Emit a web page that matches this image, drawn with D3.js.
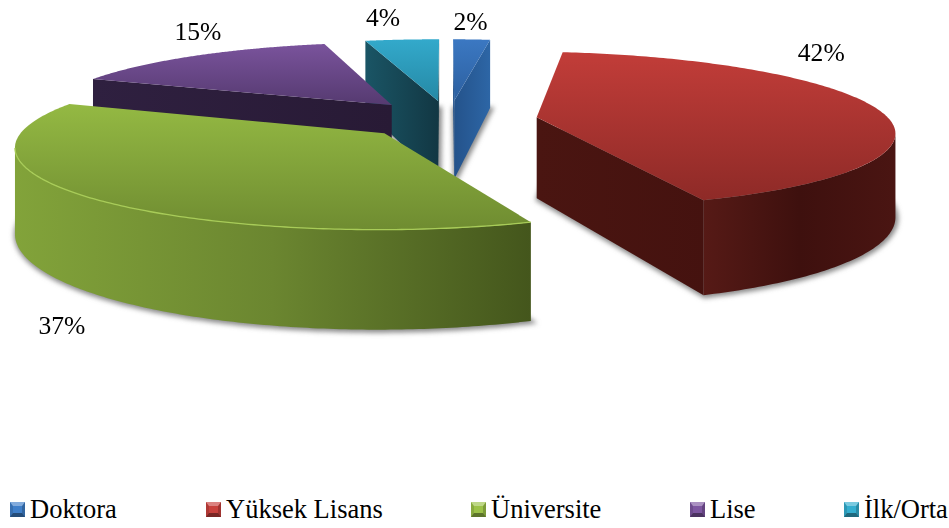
<!DOCTYPE html>
<html>
<head>
<meta charset="utf-8">
<script src="https://cdn.jsdelivr.net/npm/d3@7"></script>
<style>
body { margin: 0; background: #fff; }
text { font-family: "Liberation Serif", "Times New Roman", serif; fill: #000; }
</style>
</head>
<body>
<svg id="canvas" width="949" height="528"></svg>
<script>
// ----------------------------------------------------------
// DATA -----------------------------------------------------
// ----------------------------------------------------------
var categories = ["Doktora", "Yüksek Lisans", "Üniversite", "Lise", "İlk/Orta"];
var percents = [2, 42, 37, 15, 4];

// ----------------------------------------------------------
// STYLE ----------------------------------------------------
// ----------------------------------------------------------
var color_top = [["#3b78c2", "#2c5f9f"], ["#c23d39", "#8e2a27"], ["#94b943", "#6f8c31"], ["#7a539c", "#553a70"], ["#33a9cb", "#2589a5"]];
var color_wall = [["#24528a", "#2d66a6"], ["#4a1511", "#3f0f0d"], ["#8aad3d", "#44561c"], ["#2f2040", "#281a35"], ["#1a5565", "#123743"]];
var color_rim = [null, ["#561a16", "#3e100e", "#4a1512"], ["#82a33a", "#6b8630", "#44561c"], null, null];
var color_edge = [null, null, "#a8cc58", null, null];
var color_mark = ["#3f7fc9", "#c8403c", "#9cc248", "#7d56a0", "#34aecf"];
var label_shift = [[-1, -17], [-56, -56], [-25, 129], [4, -24], [-19, -22]];
var legend_x = [10, 206, 471, 690, 844];
var draw_order = [0, 4, 3, 1, 2];

// projection of the tilted disc onto the page
var cam = { a: 352.733, b: 69.9018, c: 448.939, d: 0.978725, f: -57.8168, g: 119.33, p: -0.000831628, q: 0.156808, depth: 81.5496 };
var explode = 0.251739;

var svg = d3.select("#canvas");
var defs = svg.append("defs");

var blur = defs.append("filter").attr("id", "soft").attr("x", "-20%").attr("y", "-20%").attr("width", "140%").attr("height", "140%");
blur.append("feGaussianBlur").attr("stdDeviation", 2.6);
var blur_edge = defs.append("filter").attr("id", "soft_edge").attr("x", "-5%").attr("y", "-20%").attr("width", "110%").attr("height", "140%");
blur_edge.append("feGaussianBlur").attr("stdDeviation", 0.5);

// ----------------------------------------------------------
// GEOMETRY -------------------------------------------------
// ----------------------------------------------------------
var pie = d3.pie().sort(null).value(function(d) { return d; });
var arcs = pie(percents);

function project(x, y) {
  var w = 1 + cam.p * x + cam.q * y;
  return { x: (cam.a * x + cam.b * y + cam.c) / w, y: (cam.d * x + cam.f * y + cam.g) / w, h: cam.depth / w };
}
function disc_point(i, angle, r) {
  var mid = (arcs[i].startAngle + arcs[i].endAngle) / 2;
  return project(explode * Math.sin(mid) + r * Math.sin(angle), explode * Math.cos(mid) + r * Math.cos(angle));
}
function rim_points(i) {
  var scale = d3.scaleLinear().domain([0, 180]).range([arcs[i].startAngle, arcs[i].endAngle]);
  return d3.range(181).map(function(k) { return disc_point(i, scale(k), 1); });
}
var line_top = d3.line().x(function(p) { return p.x; }).y(function(p) { return p.y; });
var line_low = d3.line().x(function(p) { return p.x; }).y(function(p) { return p.y + p.h; });

function wall_path(pts) {
  return line_top(pts) + "L" + line_low(pts.slice().reverse()).slice(1) + "Z";
}
function gradient(id, stops, x1, y1, x2, y2, units) {
  var g = defs.append("linearGradient").attr("id", id)
    .attr("x1", x1).attr("y1", y1).attr("x2", x2).attr("y2", y2)
    .attr("gradientUnits", units);
  stops.forEach(function(c, k) {
    g.append("stop").attr("offset", k / (stops.length - 1)).attr("stop-color", c);
  });
}

// ----------------------------------------------------------
// SHADOWS --------------------------------------------------
// ----------------------------------------------------------
var shadow_group = svg.append("g").attr("filter", "url(#soft)");
arcs.forEach(function(a, i) {
  var outline = [disc_point(i, 0, 0)].concat(rim_points(i));
  shadow_group.append("path")
    .attr("d", line_low(outline) + "Z")
    .attr("transform", "translate(1,1)")
    .style("fill", "#8a8a8a").style("stroke", "#8a8a8a").style("stroke-width", 4);
});

// ----------------------------------------------------------
// SLICES ---------------------------------------------------
// ----------------------------------------------------------
var slice_group = svg.append("g");
draw_order.forEach(function(i) {
  var g = slice_group.append("g").attr("class", "slice");
  var apex = disc_point(i, 0, 0);
  var rim = rim_points(i);
  var start = rim[0], end = rim[rim.length - 1];
  var bx = d3.extent(rim.concat([apex]), function(p) { return p.x; });
  var by = d3.extent(rim.concat([apex]), function(p) { return p.y; });

  // cut walls, only those facing the viewer
  gradient("wall" + i, color_wall[i], bx[0], 0, bx[1], 0, "userSpaceOnUse");
  [[end, apex], [apex, start]].forEach(function(edge) {
    if (edge[1].x < edge[0].x - 1) {
      g.append("path").attr("d", wall_path(edge)).style("fill", "url(#wall" + i + ")");
    }
  });

  // curved wall, front part of the rim
  var front = rim.filter(function(p, k) {
    return (k > 0 && p.x < rim[k - 1].x) || (k < rim.length - 1 && rim[k + 1].x < p.x);
  });
  if (color_rim[i] && front.length > 1) {
    gradient("rim" + i, color_rim[i], d3.min(front, function(p) { return p.x; }), 0, d3.max(front, function(p) { return p.x; }), 0, "userSpaceOnUse");
    g.append("path").attr("d", wall_path(front)).style("fill", "url(#rim" + i + ")");
  }

  // top face
  gradient("top" + i, color_top[i], 0, by[0], 0, by[1], "userSpaceOnUse");
  g.append("path").attr("d", line_top([apex].concat(rim)) + "Z").style("fill", "url(#top" + i + ")");

  // bevel on the front rim
  if (color_edge[i] && front.length > 1) {
    g.append("path").attr("d", line_top(front)).attr("filter", "url(#soft_edge)")
      .style("fill", "none").style("stroke", color_edge[i]).style("stroke-width", 1.3);
  }
});

// ----------------------------------------------------------
// TEXT -----------------------------------------------------
// ----------------------------------------------------------
svg.append("g").selectAll("text").data(arcs).enter().append("text")
  .attr("x", function(a, i) { return disc_point(i, (a.startAngle + a.endAngle) / 2, 1).x + label_shift[i][0]; })
  .attr("y", function(a, i) { return disc_point(i, (a.startAngle + a.endAngle) / 2, 1).y + label_shift[i][1] + 8; })
  .attr("text-anchor", "middle")
  .style("font-size", "25.6px")
  .text(function(a) { return a.data + "%"; });

// LEGEND ---------------------------------------------------
var legend = svg.append("g").selectAll("g").data(categories).enter().append("g")
  .attr("transform", function(d, i) { return "translate(" + legend_x[i] + ",502)"; });
legend.append("rect").attr("width", 15).attr("height", 15)
  .style("fill", function(d, i) { return color_mark[i]; });
legend.append("path").attr("d", "M0,15L3,11H12L15,15Z").style("fill", "#000").style("fill-opacity", 0.4);
legend.append("path").attr("d", "M0,0L3,4V11L0,15Z").style("fill", "#000").style("fill-opacity", 0.12);
legend.append("path").attr("d", "M15,0L12,4V11L15,15Z").style("fill", "#000").style("fill-opacity", 0.2);
legend.append("path").attr("d", "M0,0H15L12,4H3Z").style("fill", "#fff").style("fill-opacity", 0.35);
legend.append("text").attr("x", 20).attr("y", 15.5).style("font-size", "26.5px").text(function(d) { return d; });
</script>
</body>
</html>
